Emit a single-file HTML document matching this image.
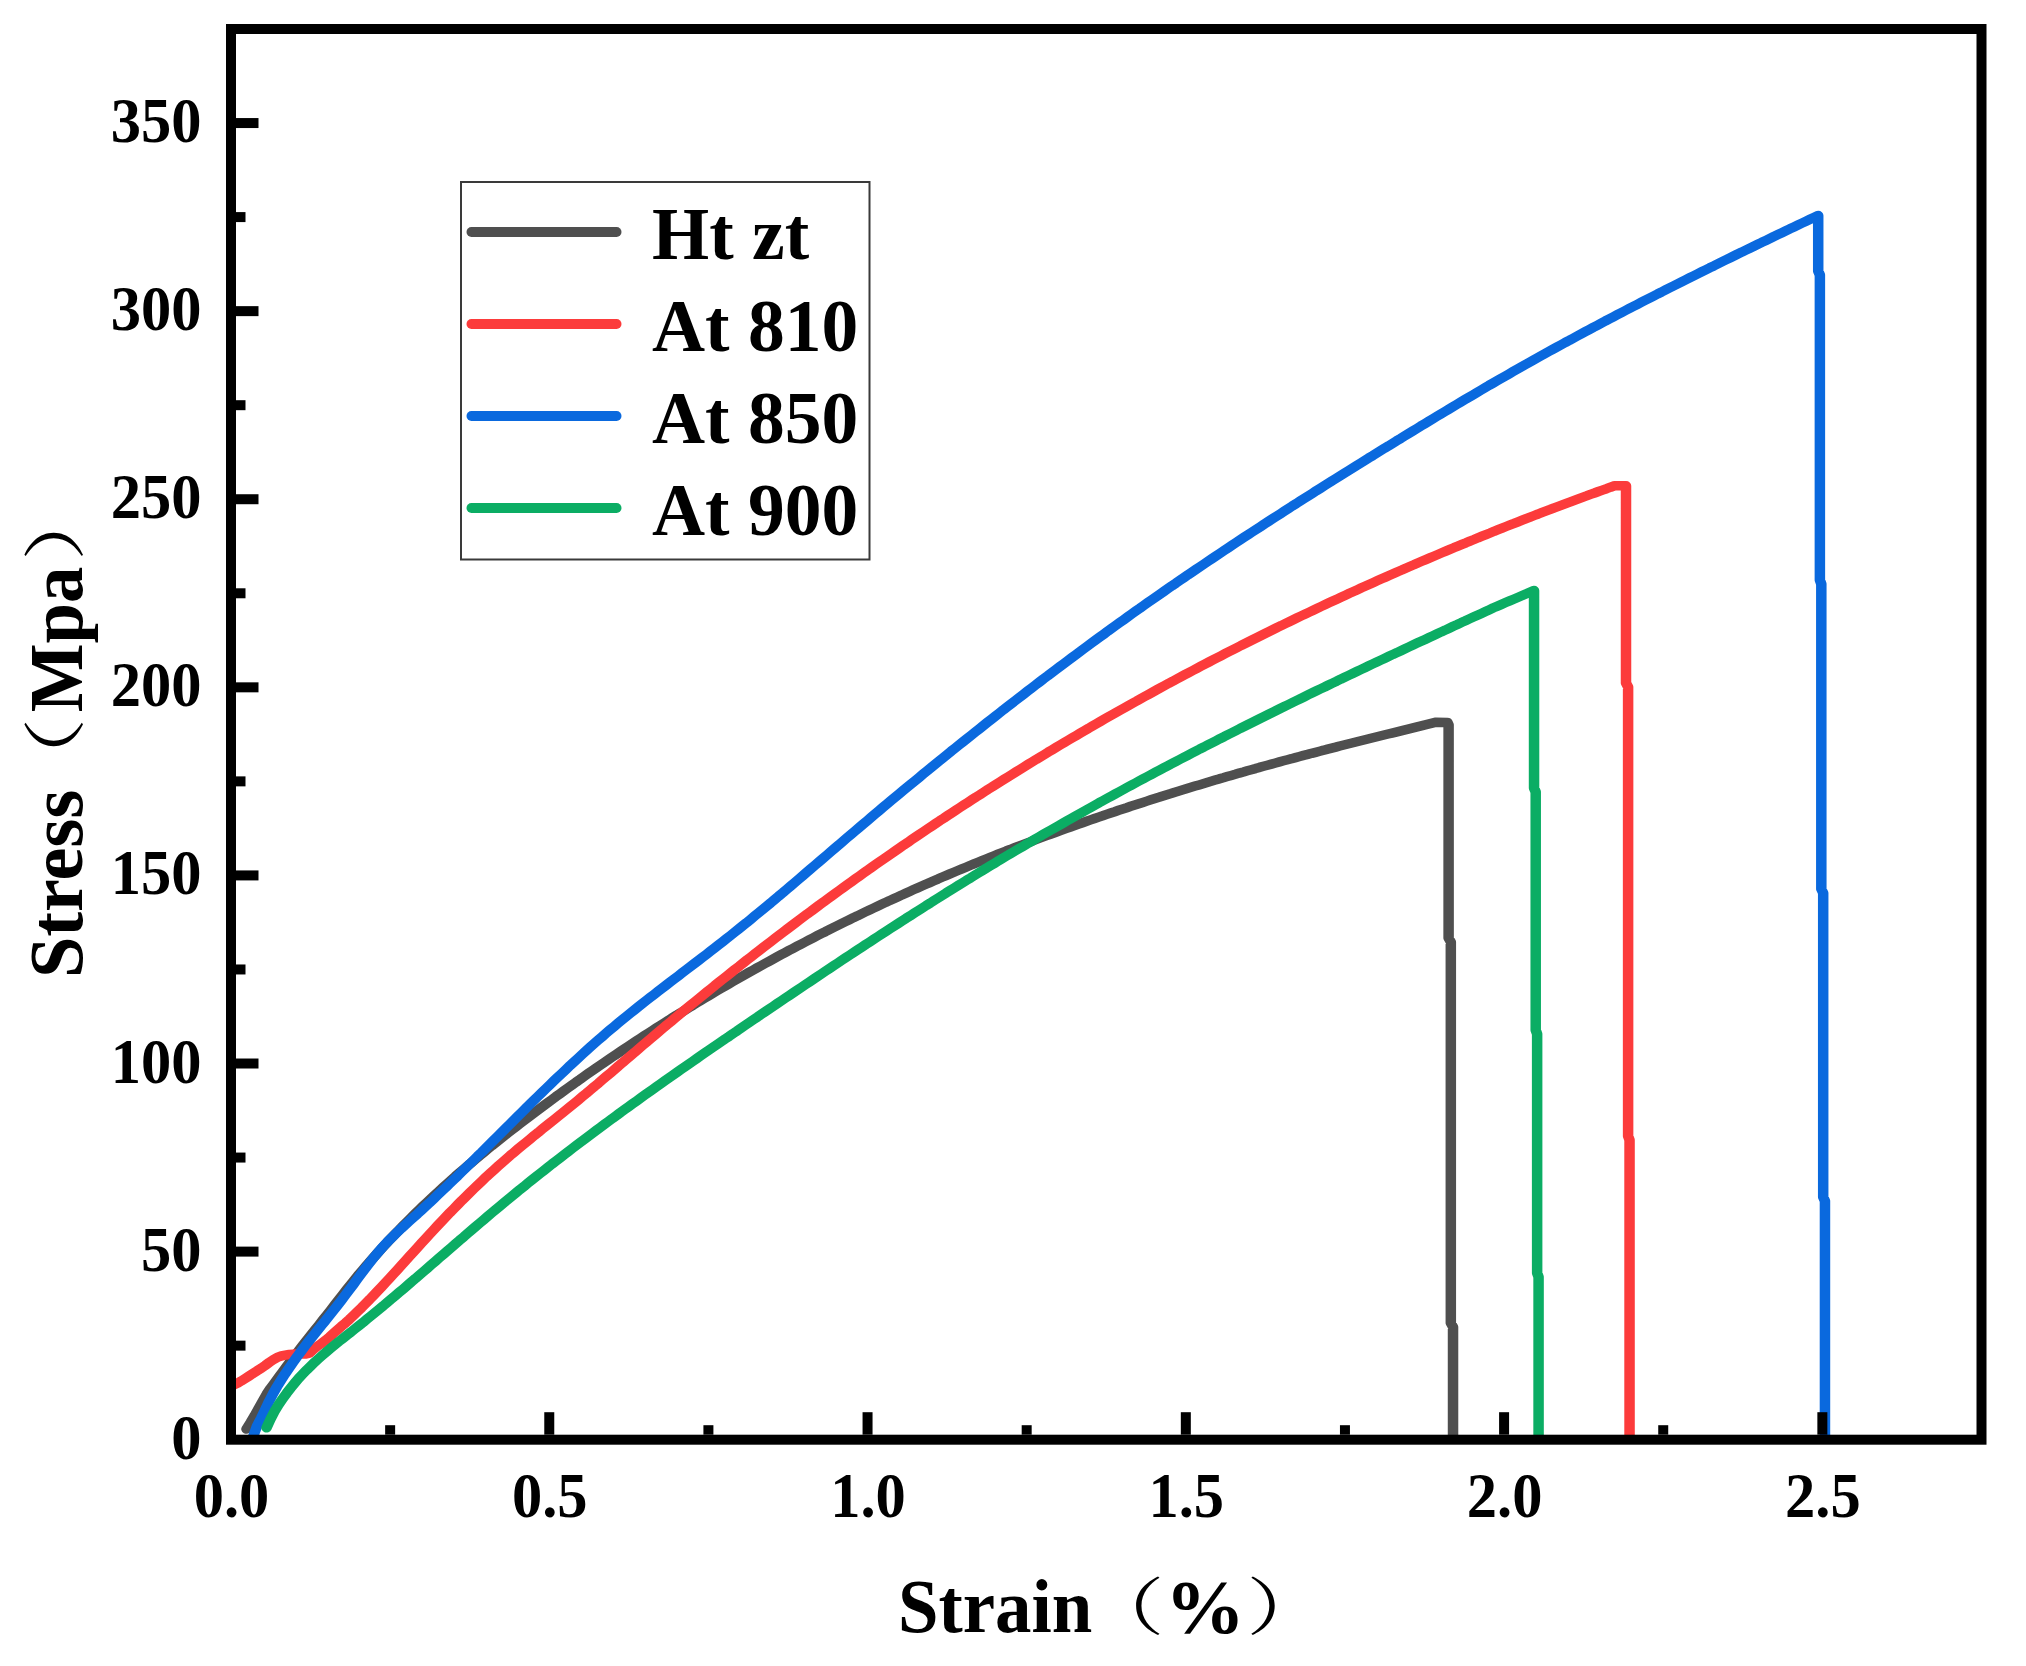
<!DOCTYPE html>
<html lang="en"><head><meta charset="utf-8"><title>Stress-Strain</title>
<style>html,body{margin:0;padding:0;background:#fff}svg{display:block}</style></head>
<body>
<svg width="2026" height="1666" viewBox="0 0 2026 1666">
<rect width="2026" height="1666" fill="#fff"/>
<defs><clipPath id="c"><rect x="231.0" y="29.0" width="1750.5" height="1410.7"/></clipPath></defs>
<g clip-path="url(#c)">
<g transform="scale(1.1053,1)" fill="none" stroke-width="9.5" stroke-linejoin="round" stroke-linecap="round">
<path d="M223.0,1429.0 L226.7,1422.5 L230.3,1415.8 L233.9,1408.7 L237.6,1401.3 L241.2,1394.3 L244.8,1388.3 L248.5,1382.8 L252.1,1377.3 L255.8,1371.8 L259.4,1366.5 L263.0,1361.1 L266.7,1355.9 L270.3,1350.7 L273.9,1345.5 L277.6,1340.4 L281.2,1335.4 L284.8,1330.3 L288.5,1325.2 L292.1,1320.1 L295.8,1315.0 L299.4,1309.9 L303.0,1304.7 L306.7,1299.5 L310.3,1294.4 L313.9,1289.3 L317.6,1284.2 L321.2,1279.3 L324.8,1274.4 L328.5,1269.6 L332.1,1264.9 L335.8,1260.3 L339.4,1255.7 L343.0,1251.2 L346.7,1246.8 L350.3,1242.4 L353.9,1238.2 L357.6,1233.9 L361.2,1229.8 L364.8,1225.7 L368.5,1221.6 L372.1,1217.6 L375.8,1213.6 L379.4,1209.7 L383.0,1205.8 L386.7,1202.0 L390.3,1198.2 L393.9,1194.5 L397.6,1190.8 L401.2,1187.1 L404.8,1183.5 L408.5,1179.9 L412.1,1176.3 L415.8,1172.8 L419.4,1169.3 L423.0,1165.9 L426.7,1162.5 L430.3,1159.1 L433.9,1155.7 L437.6,1152.4 L441.2,1149.1 L444.8,1145.8 L448.5,1142.6 L452.1,1139.4 L455.8,1136.2 L459.4,1133.0 L463.0,1129.9 L466.7,1126.8 L470.3,1123.7 L473.9,1120.6 L477.6,1117.5 L481.2,1114.5 L484.8,1111.5 L488.5,1108.5 L492.1,1105.5 L495.8,1102.5 L499.4,1099.6 L503.0,1096.6 L506.7,1093.7 L510.3,1090.8 L513.9,1087.9 L517.6,1085.0 L521.2,1082.1 L524.9,1079.3 L528.5,1076.4 L532.1,1073.6 L535.8,1070.8 L539.4,1068.0 L543.0,1065.3 L546.7,1062.5 L550.3,1059.7 L553.9,1057.0 L557.6,1054.3 L561.2,1051.6 L564.9,1048.9 L568.5,1046.2 L572.1,1043.6 L575.8,1040.9 L579.4,1038.3 L583.0,1035.7 L586.7,1033.1 L590.3,1030.5 L593.9,1027.9 L597.6,1025.3 L601.2,1022.8 L604.9,1020.3 L608.5,1017.7 L612.1,1015.2 L615.8,1012.8 L619.4,1010.3 L623.0,1007.8 L626.7,1005.4 L630.3,1002.9 L633.9,1000.5 L637.6,998.1 L641.2,995.7 L644.9,993.3 L648.5,990.9 L652.1,988.6 L655.8,986.2 L659.4,983.9 L663.0,981.6 L666.7,979.3 L670.3,977.0 L673.9,974.7 L677.6,972.4 L681.2,970.2 L684.9,967.9 L688.5,965.7 L692.1,963.5 L695.8,961.3 L699.4,959.1 L703.0,956.9 L706.7,954.7 L710.3,952.6 L713.9,950.4 L717.6,948.3 L721.2,946.2 L724.9,944.1 L728.5,942.0 L732.1,939.9 L735.8,937.8 L739.4,935.7 L743.0,933.7 L746.7,931.7 L750.3,929.6 L753.9,927.6 L757.6,925.6 L761.2,923.6 L764.9,921.6 L768.5,919.7 L772.1,917.7 L775.8,915.8 L779.4,913.8 L783.0,911.9 L786.7,910.0 L790.3,908.1 L793.9,906.2 L797.6,904.3 L801.2,902.4 L804.9,900.6 L808.5,898.7 L812.1,896.9 L815.8,895.1 L819.4,893.2 L823.0,891.4 L826.7,889.6 L830.3,887.9 L834.0,886.1 L837.6,884.3 L841.2,882.6 L844.9,880.8 L848.5,879.1 L852.1,877.3 L855.8,875.6 L859.4,873.9 L863.0,872.2 L866.7,870.5 L870.3,868.9 L874.0,867.2 L877.6,865.5 L881.2,863.9 L884.9,862.2 L888.5,860.6 L892.1,859.0 L895.8,857.4 L899.4,855.8 L903.0,854.2 L906.7,852.6 L910.3,851.0 L914.0,849.5 L917.6,847.9 L921.2,846.3 L924.9,844.8 L928.5,843.3 L932.1,841.8 L935.8,840.2 L939.4,838.7 L943.0,837.2 L946.7,835.7 L950.3,834.3 L954.0,832.8 L957.6,831.3 L961.2,829.9 L964.9,828.4 L968.5,827.0 L972.1,825.6 L975.8,824.1 L979.4,822.7 L983.0,821.3 L986.7,819.9 L990.3,818.5 L994.0,817.1 L997.6,815.8 L1001.2,814.4 L1004.9,813.0 L1008.5,811.7 L1012.1,810.3 L1015.8,809.0 L1019.4,807.7 L1023.0,806.3 L1026.7,805.0 L1030.3,803.7 L1034.0,802.4 L1037.6,801.1 L1041.2,799.8 L1044.9,798.5 L1048.5,797.3 L1052.1,796.0 L1055.8,794.7 L1059.4,793.5 L1063.0,792.2 L1066.7,791.0 L1070.3,789.8 L1074.0,788.5 L1077.6,787.3 L1081.2,786.1 L1084.9,784.9 L1088.5,783.7 L1092.1,782.5 L1095.8,781.3 L1099.4,780.1 L1103.0,778.9 L1106.7,777.8 L1110.3,776.6 L1114.0,775.4 L1117.6,774.3 L1121.2,773.1 L1124.9,772.0 L1128.5,770.8 L1132.1,769.7 L1135.8,768.6 L1139.4,767.4 L1143.1,766.3 L1146.7,765.2 L1150.3,764.1 L1154.0,763.0 L1157.6,761.9 L1161.2,760.8 L1164.9,759.7 L1168.5,758.7 L1172.1,757.6 L1175.8,756.5 L1179.4,755.4 L1183.1,754.4 L1186.7,753.3 L1190.3,752.3 L1194.0,751.2 L1197.6,750.2 L1201.2,749.1 L1204.9,748.1 L1208.5,747.1 L1212.1,746.0 L1215.8,745.0 L1219.4,744.0 L1223.1,743.0 L1226.7,742.0 L1230.3,741.0 L1234.0,740.0 L1237.6,739.0 L1241.2,738.0 L1244.9,737.0 L1248.5,736.0 L1252.1,735.0 L1255.8,734.0 L1259.4,733.1 L1263.1,732.1 L1266.7,731.1 L1270.3,730.1 L1274.0,729.1 L1277.6,728.1 L1281.2,727.1 L1284.9,726.1 L1288.5,725.1 L1292.1,724.2 L1295.8,723.2 L1299.4,722.2 L1309.6,722.4 L1310.6,725.0 L1310.6,938.0 L1312.6,942.0 L1312.6,1323.0 L1314.6,1327.0 L1314.6,1445.0" stroke="#4f4f4f"/>
<path d="M203.6,1389.0 L207.2,1387.3 L210.8,1385.4 L214.5,1383.4 L218.1,1381.1 L221.7,1378.6 L225.4,1376.0 L229.0,1373.4 L232.6,1370.8 L236.3,1368.3 L239.9,1365.5 L243.5,1362.5 L247.2,1359.7 L250.8,1357.4 L254.4,1356.0 L258.1,1355.2 L261.7,1354.5 L265.3,1354.1 L269.0,1354.1 L272.6,1354.1 L276.2,1354.1 L279.9,1353.2 L283.5,1349.5 L287.1,1346.3 L290.8,1343.5 L294.4,1340.5 L298.0,1337.1 L301.7,1333.4 L305.3,1329.8 L308.9,1326.3 L312.6,1322.9 L316.2,1319.3 L319.8,1315.5 L323.5,1311.6 L327.1,1307.7 L330.7,1303.6 L334.4,1299.5 L338.0,1295.3 L341.6,1291.1 L345.3,1286.8 L348.9,1282.5 L352.5,1278.2 L356.2,1273.8 L359.8,1269.4 L363.4,1265.0 L367.1,1260.5 L370.7,1256.1 L374.3,1251.7 L378.0,1247.2 L381.6,1242.8 L385.2,1238.4 L388.9,1234.0 L392.5,1229.7 L396.1,1225.4 L399.8,1221.1 L403.4,1216.9 L407.0,1212.7 L410.7,1208.6 L414.3,1204.5 L417.9,1200.4 L421.6,1196.4 L425.2,1192.5 L428.8,1188.6 L432.5,1184.7 L436.1,1180.9 L439.7,1177.1 L443.4,1173.4 L447.0,1169.8 L450.6,1166.2 L454.3,1162.6 L457.9,1159.1 L461.5,1155.6 L465.2,1152.2 L468.8,1148.8 L472.4,1145.5 L476.1,1142.2 L479.7,1138.9 L483.3,1135.6 L487.0,1132.4 L490.6,1129.1 L494.2,1125.9 L497.9,1122.7 L501.5,1119.5 L505.1,1116.3 L508.8,1113.0 L512.4,1109.8 L516.0,1106.5 L519.7,1103.2 L523.3,1099.9 L526.9,1096.6 L530.6,1093.3 L534.2,1089.9 L537.8,1086.5 L541.5,1083.2 L545.1,1079.7 L548.7,1076.3 L552.4,1072.9 L556.0,1069.5 L559.6,1066.0 L563.3,1062.6 L566.9,1059.1 L570.5,1055.7 L574.2,1052.3 L577.8,1048.8 L581.4,1045.4 L585.1,1042.0 L588.7,1038.6 L592.3,1035.2 L596.0,1031.8 L599.6,1028.4 L603.2,1025.0 L606.9,1021.7 L610.5,1018.3 L614.1,1015.0 L617.8,1011.6 L621.4,1008.3 L625.0,1005.0 L628.7,1001.7 L632.3,998.5 L635.9,995.2 L639.6,991.9 L643.2,988.7 L646.8,985.4 L650.5,982.2 L654.1,979.0 L657.8,975.8 L661.4,972.6 L665.0,969.4 L668.7,966.3 L672.3,963.1 L675.9,959.9 L679.6,956.8 L683.2,953.7 L686.8,950.6 L690.5,947.4 L694.1,944.3 L697.7,941.3 L701.4,938.2 L705.0,935.1 L708.6,932.1 L712.3,929.0 L715.9,926.0 L719.5,923.0 L723.2,919.9 L726.8,916.9 L730.4,913.9 L734.1,911.0 L737.7,908.0 L741.3,905.0 L745.0,902.1 L748.6,899.1 L752.2,896.2 L755.9,893.3 L759.5,890.4 L763.1,887.5 L766.8,884.6 L770.4,881.7 L774.0,878.8 L777.7,875.9 L781.3,873.1 L784.9,870.2 L788.6,867.4 L792.2,864.6 L795.8,861.8 L799.5,859.0 L803.1,856.2 L806.7,853.4 L810.4,850.6 L814.0,847.9 L817.6,845.1 L821.3,842.4 L824.9,839.6 L828.5,836.9 L832.2,834.2 L835.8,831.5 L839.4,828.8 L843.1,826.1 L846.7,823.4 L850.3,820.7 L854.0,818.1 L857.6,815.4 L861.2,812.8 L864.9,810.1 L868.5,807.5 L872.1,804.9 L875.8,802.3 L879.4,799.7 L883.0,797.1 L886.7,794.6 L890.3,792.0 L893.9,789.4 L897.6,786.9 L901.2,784.3 L904.8,781.8 L908.5,779.3 L912.1,776.8 L915.7,774.3 L919.4,771.8 L923.0,769.3 L926.6,766.8 L930.3,764.3 L933.9,761.9 L937.5,759.4 L941.2,757.0 L944.8,754.6 L948.4,752.1 L952.1,749.7 L955.7,747.3 L959.3,744.9 L963.0,742.5 L966.6,740.1 L970.2,737.8 L973.9,735.4 L977.5,733.0 L981.1,730.7 L984.8,728.4 L988.4,726.0 L992.0,723.7 L995.7,721.4 L999.3,719.1 L1002.9,716.8 L1006.6,714.5 L1010.2,712.2 L1013.8,710.0 L1017.5,707.7 L1021.1,705.4 L1024.7,703.2 L1028.4,701.0 L1032.0,698.7 L1035.6,696.5 L1039.3,694.3 L1042.9,692.1 L1046.5,689.9 L1050.2,687.7 L1053.8,685.5 L1057.4,683.3 L1061.1,681.2 L1064.7,679.0 L1068.3,676.9 L1072.0,674.7 L1075.6,672.6 L1079.2,670.5 L1082.9,668.3 L1086.5,666.2 L1090.1,664.1 L1093.8,662.0 L1097.4,659.9 L1101.0,657.9 L1104.7,655.8 L1108.3,653.7 L1111.9,651.7 L1115.6,649.6 L1119.2,647.6 L1122.8,645.5 L1126.5,643.5 L1130.1,641.5 L1133.7,639.5 L1137.4,637.5 L1141.0,635.5 L1144.6,633.5 L1148.3,631.5 L1151.9,629.5 L1155.5,627.5 L1159.2,625.6 L1162.8,623.6 L1166.4,621.7 L1170.1,619.7 L1173.7,617.8 L1177.3,615.9 L1181.0,614.0 L1184.6,612.1 L1188.2,610.2 L1191.9,608.3 L1195.5,606.4 L1199.1,604.5 L1202.8,602.6 L1206.4,600.7 L1210.0,598.9 L1213.7,597.0 L1217.3,595.2 L1220.9,593.3 L1224.6,591.5 L1228.2,589.7 L1231.8,587.8 L1235.5,586.0 L1239.1,584.2 L1242.7,582.4 L1246.4,580.6 L1250.0,578.8 L1253.6,577.1 L1257.3,575.3 L1260.9,573.5 L1264.5,571.7 L1268.2,570.0 L1271.8,568.2 L1275.4,566.5 L1279.1,564.8 L1282.7,563.0 L1286.3,561.3 L1290.0,559.6 L1293.6,557.9 L1297.2,556.2 L1300.9,554.5 L1304.5,552.8 L1308.1,551.1 L1311.8,549.4 L1315.4,547.7 L1319.0,546.1 L1322.7,544.4 L1326.3,542.8 L1329.9,541.1 L1333.6,539.5 L1337.2,537.8 L1340.8,536.2 L1344.5,534.6 L1348.1,533.0 L1351.7,531.3 L1355.4,529.7 L1359.0,528.1 L1362.6,526.5 L1366.3,524.9 L1369.9,523.4 L1373.5,521.8 L1377.2,520.2 L1380.8,518.6 L1384.4,517.1 L1388.1,515.5 L1391.7,514.0 L1395.3,512.4 L1399.0,510.9 L1402.6,509.4 L1406.2,507.8 L1409.9,506.3 L1413.5,504.8 L1417.1,503.3 L1420.8,501.8 L1424.4,500.3 L1428.0,498.8 L1431.7,497.3 L1435.3,495.9 L1438.9,494.4 L1442.6,493.0 L1446.2,491.5 L1449.8,490.1 L1453.5,488.7 L1457.1,487.2 L1460.7,485.8 L1471.1,485.8 L1471.1,683.0 L1473.0,687.0 L1473.0,1136.0 L1474.3,1140.0 L1474.3,1445.0" stroke="#fc3b3b"/>
<path d="M228.9,1437.0 L232.5,1426.0 L236.2,1418.2 L239.8,1410.0 L243.4,1401.4 L247.1,1393.5 L250.7,1386.5 L254.3,1380.1 L257.9,1373.9 L261.6,1367.9 L265.2,1362.2 L268.8,1356.6 L272.5,1351.2 L276.1,1345.9 L279.7,1340.8 L283.4,1335.7 L287.0,1330.7 L290.6,1325.7 L294.3,1320.8 L297.9,1315.8 L301.5,1310.8 L305.1,1305.7 L308.8,1300.5 L312.4,1295.2 L316.0,1289.9 L319.7,1284.5 L323.3,1279.0 L326.9,1273.6 L330.6,1268.3 L334.2,1263.1 L337.8,1258.0 L341.5,1253.1 L345.1,1248.5 L348.7,1244.1 L352.3,1239.9 L356.0,1235.9 L359.6,1232.1 L363.2,1228.3 L366.9,1224.6 L370.5,1221.0 L374.1,1217.4 L377.8,1213.8 L381.4,1210.1 L385.0,1206.4 L388.7,1202.7 L392.3,1198.9 L395.9,1195.1 L399.5,1191.3 L403.2,1187.5 L406.8,1183.6 L410.4,1179.8 L414.1,1175.9 L417.7,1171.9 L421.3,1168.0 L425.0,1164.1 L428.6,1160.1 L432.2,1156.1 L435.9,1152.2 L439.5,1148.2 L443.1,1144.2 L446.7,1140.2 L450.4,1136.2 L454.0,1132.2 L457.6,1128.2 L461.3,1124.2 L464.9,1120.2 L468.5,1116.2 L472.2,1112.2 L475.8,1108.2 L479.4,1104.3 L483.1,1100.3 L486.7,1096.4 L490.3,1092.5 L493.9,1088.6 L497.6,1084.7 L501.2,1080.8 L504.8,1077.0 L508.5,1073.2 L512.1,1069.4 L515.7,1065.6 L519.4,1061.9 L523.0,1058.2 L526.6,1054.5 L530.2,1050.9 L533.9,1047.2 L537.5,1043.7 L541.1,1040.2 L544.8,1036.7 L548.4,1033.2 L552.0,1029.8 L555.7,1026.4 L559.3,1023.1 L562.9,1019.8 L566.6,1016.5 L570.2,1013.3 L573.8,1010.1 L577.4,1006.9 L581.1,1003.7 L584.7,1000.5 L588.3,997.4 L592.0,994.3 L595.6,991.2 L599.2,988.1 L602.9,985.0 L606.5,981.9 L610.1,978.9 L613.8,975.8 L617.4,972.7 L621.0,969.7 L624.6,966.6 L628.3,963.5 L631.9,960.5 L635.5,957.4 L639.2,954.3 L642.8,951.2 L646.4,948.1 L650.1,944.9 L653.7,941.8 L657.3,938.7 L661.0,935.5 L664.6,932.3 L668.2,929.1 L671.8,925.9 L675.5,922.7 L679.1,919.4 L682.7,916.1 L686.4,912.8 L690.0,909.5 L693.6,906.2 L697.3,902.9 L700.9,899.5 L704.5,896.1 L708.2,892.8 L711.8,889.4 L715.4,886.0 L719.0,882.6 L722.7,879.1 L726.3,875.7 L729.9,872.3 L733.6,868.8 L737.2,865.4 L740.8,862.0 L744.5,858.5 L748.1,855.1 L751.7,851.6 L755.3,848.2 L759.0,844.8 L762.6,841.3 L766.2,837.9 L769.9,834.5 L773.5,831.1 L777.1,827.7 L780.8,824.2 L784.4,820.9 L788.0,817.5 L791.7,814.1 L795.3,810.7 L798.9,807.3 L802.5,804.0 L806.2,800.6 L809.8,797.3 L813.4,794.0 L817.1,790.6 L820.7,787.3 L824.3,784.0 L828.0,780.7 L831.6,777.4 L835.2,774.1 L838.9,770.8 L842.5,767.5 L846.1,764.2 L849.7,761.0 L853.4,757.7 L857.0,754.5 L860.6,751.2 L864.3,748.0 L867.9,744.8 L871.5,741.6 L875.2,738.4 L878.8,735.2 L882.4,732.0 L886.1,728.8 L889.7,725.6 L893.3,722.4 L896.9,719.3 L900.6,716.1 L904.2,713.0 L907.8,709.8 L911.5,706.7 L915.1,703.6 L918.7,700.5 L922.4,697.4 L926.0,694.3 L929.6,691.2 L933.3,688.1 L936.9,685.0 L940.5,682.0 L944.1,678.9 L947.8,675.9 L951.4,672.8 L955.0,669.8 L958.7,666.8 L962.3,663.8 L965.9,660.8 L969.6,657.8 L973.2,654.8 L976.8,651.8 L980.4,648.9 L984.1,645.9 L987.7,642.9 L991.3,640.0 L995.0,637.1 L998.6,634.2 L1002.2,631.2 L1005.9,628.3 L1009.5,625.4 L1013.1,622.6 L1016.8,619.7 L1020.4,616.8 L1024.0,613.9 L1027.6,611.1 L1031.3,608.3 L1034.9,605.4 L1038.5,602.6 L1042.2,599.8 L1045.8,597.0 L1049.4,594.2 L1053.1,591.4 L1056.7,588.6 L1060.3,585.8 L1064.0,583.1 L1067.6,580.3 L1071.2,577.6 L1074.8,574.8 L1078.5,572.1 L1082.1,569.4 L1085.7,566.7 L1089.4,564.0 L1093.0,561.3 L1096.6,558.6 L1100.3,555.9 L1103.9,553.2 L1107.5,550.5 L1111.2,547.8 L1114.8,545.2 L1118.4,542.5 L1122.0,539.9 L1125.7,537.2 L1129.3,534.6 L1132.9,532.0 L1136.6,529.4 L1140.2,526.8 L1143.8,524.1 L1147.5,521.5 L1151.1,518.9 L1154.7,516.4 L1158.4,513.8 L1162.0,511.2 L1165.6,508.6 L1169.2,506.0 L1172.9,503.5 L1176.5,500.9 L1180.1,498.4 L1183.8,495.8 L1187.4,493.3 L1191.0,490.7 L1194.7,488.2 L1198.3,485.7 L1201.9,483.2 L1205.5,480.6 L1209.2,478.1 L1212.8,475.6 L1216.4,473.1 L1220.1,470.6 L1223.7,468.1 L1227.3,465.6 L1231.0,463.1 L1234.6,460.6 L1238.2,458.1 L1241.9,455.7 L1245.5,453.2 L1249.1,450.7 L1252.7,448.2 L1256.4,445.8 L1260.0,443.3 L1263.6,440.8 L1267.3,438.4 L1270.9,435.9 L1274.5,433.5 L1278.2,431.0 L1281.8,428.6 L1285.4,426.1 L1289.1,423.7 L1292.7,421.3 L1296.3,418.8 L1299.9,416.4 L1303.6,414.0 L1307.2,411.6 L1310.8,409.2 L1314.5,406.8 L1318.1,404.4 L1321.7,402.0 L1325.4,399.6 L1329.0,397.2 L1332.6,394.9 L1336.3,392.5 L1339.9,390.1 L1343.5,387.8 L1347.1,385.4 L1350.8,383.1 L1354.4,380.8 L1358.0,378.5 L1361.7,376.2 L1365.3,373.9 L1368.9,371.6 L1372.6,369.3 L1376.2,367.0 L1379.8,364.8 L1383.5,362.5 L1387.1,360.2 L1390.7,358.0 L1394.3,355.8 L1398.0,353.5 L1401.6,351.3 L1405.2,349.1 L1408.9,346.9 L1412.5,344.7 L1416.1,342.5 L1419.8,340.4 L1423.4,338.2 L1427.0,336.0 L1430.6,333.9 L1434.3,331.7 L1437.9,329.6 L1441.5,327.4 L1445.2,325.3 L1448.8,323.2 L1452.4,321.0 L1456.1,318.9 L1459.7,316.8 L1463.3,314.7 L1467.0,312.6 L1470.6,310.5 L1474.2,308.4 L1477.8,306.4 L1481.5,304.3 L1485.1,302.2 L1488.7,300.2 L1492.4,298.1 L1496.0,296.1 L1499.6,294.0 L1503.3,292.0 L1506.9,289.9 L1510.5,287.9 L1514.2,285.9 L1517.8,283.9 L1521.4,281.8 L1525.0,279.8 L1528.7,277.8 L1532.3,275.8 L1535.9,273.8 L1539.6,271.8 L1543.2,269.8 L1546.8,267.8 L1550.5,265.9 L1554.1,263.9 L1557.7,261.9 L1561.4,259.9 L1565.0,258.0 L1568.6,256.0 L1572.2,254.0 L1575.9,252.1 L1579.5,250.1 L1583.1,248.2 L1586.8,246.2 L1590.4,244.3 L1594.0,242.3 L1597.7,240.4 L1601.3,238.5 L1604.9,236.5 L1608.6,234.6 L1612.2,232.7 L1615.8,230.8 L1619.4,228.8 L1623.1,226.9 L1626.7,225.0 L1630.3,223.1 L1634.0,221.2 L1637.6,219.3 L1641.2,217.4 L1644.9,215.5 L1645.0,215.5 L1645.0,271.0 L1646.5,275.0 L1646.5,580.0 L1647.8,584.0 L1647.8,889.0 L1649.5,893.0 L1649.5,1197.0 L1651.1,1201.0 L1651.1,1445.0" stroke="#0a69de"/>
<path d="M241.1,1427.8 L244.8,1419.0 L248.4,1411.3 L252.0,1404.7 L255.7,1398.8 L259.3,1393.3 L263.0,1388.0 L266.6,1383.1 L270.2,1378.4 L273.9,1374.0 L277.5,1369.9 L281.2,1365.9 L284.8,1362.1 L288.4,1358.5 L292.1,1354.9 L295.7,1351.5 L299.4,1348.1 L303.0,1344.8 L306.6,1341.5 L310.3,1338.3 L313.9,1335.1 L317.6,1332.0 L321.2,1328.8 L324.8,1325.6 L328.5,1322.4 L332.1,1319.1 L335.8,1315.8 L339.4,1312.5 L343.0,1309.2 L346.7,1305.9 L350.3,1302.5 L354.0,1299.1 L357.6,1295.7 L361.2,1292.3 L364.9,1288.9 L368.5,1285.5 L372.1,1282.0 L375.8,1278.6 L379.4,1275.1 L383.1,1271.6 L386.7,1268.2 L390.3,1264.7 L394.0,1261.2 L397.6,1257.7 L401.3,1254.2 L404.9,1250.8 L408.5,1247.3 L412.2,1243.8 L415.8,1240.3 L419.5,1236.9 L423.1,1233.4 L426.7,1230.0 L430.4,1226.5 L434.0,1223.1 L437.7,1219.7 L441.3,1216.3 L444.9,1212.9 L448.6,1209.5 L452.2,1206.2 L455.9,1202.8 L459.5,1199.5 L463.1,1196.2 L466.8,1192.9 L470.4,1189.6 L474.1,1186.4 L477.7,1183.1 L481.3,1179.9 L485.0,1176.7 L488.6,1173.5 L492.3,1170.3 L495.9,1167.2 L499.5,1164.0 L503.2,1160.9 L506.8,1157.8 L510.5,1154.7 L514.1,1151.6 L517.7,1148.5 L521.4,1145.4 L525.0,1142.4 L528.7,1139.3 L532.3,1136.3 L535.9,1133.3 L539.6,1130.3 L543.2,1127.3 L546.9,1124.3 L550.5,1121.4 L554.1,1118.4 L557.8,1115.5 L561.4,1112.5 L565.1,1109.6 L568.7,1106.7 L572.3,1103.8 L576.0,1100.9 L579.6,1098.0 L583.3,1095.1 L586.9,1092.2 L590.5,1089.4 L594.2,1086.5 L597.8,1083.7 L601.5,1080.8 L605.1,1078.0 L608.7,1075.2 L612.4,1072.4 L616.0,1069.6 L619.7,1066.7 L623.3,1063.9 L626.9,1061.2 L630.6,1058.4 L634.2,1055.6 L637.8,1052.8 L641.5,1050.0 L645.1,1047.3 L648.8,1044.5 L652.4,1041.8 L656.0,1039.0 L659.7,1036.3 L663.3,1033.5 L667.0,1030.8 L670.6,1028.0 L674.2,1025.3 L677.9,1022.5 L681.5,1019.8 L685.2,1017.1 L688.8,1014.3 L692.4,1011.6 L696.1,1008.9 L699.7,1006.2 L703.4,1003.4 L707.0,1000.7 L710.6,998.0 L714.3,995.3 L717.9,992.6 L721.6,989.9 L725.2,987.2 L728.8,984.5 L732.5,981.8 L736.1,979.1 L739.8,976.4 L743.4,973.7 L747.0,971.0 L750.7,968.3 L754.3,965.7 L758.0,963.0 L761.6,960.3 L765.2,957.7 L768.9,955.0 L772.5,952.4 L776.2,949.7 L779.8,947.1 L783.4,944.4 L787.1,941.8 L790.7,939.2 L794.4,936.5 L798.0,933.9 L801.6,931.3 L805.3,928.7 L808.9,926.1 L812.6,923.5 L816.2,920.9 L819.8,918.3 L823.5,915.8 L827.1,913.2 L830.8,910.6 L834.4,908.1 L838.0,905.5 L841.7,903.0 L845.3,900.4 L849.0,897.9 L852.6,895.4 L856.2,892.8 L859.9,890.3 L863.5,887.8 L867.2,885.3 L870.8,882.8 L874.4,880.3 L878.1,877.9 L881.7,875.4 L885.4,872.9 L889.0,870.5 L892.6,868.0 L896.3,865.6 L899.9,863.2 L903.5,860.7 L907.2,858.3 L910.8,855.9 L914.5,853.5 L918.1,851.1 L921.7,848.8 L925.4,846.4 L929.0,844.0 L932.7,841.7 L936.3,839.3 L939.9,837.0 L943.6,834.6 L947.2,832.3 L950.9,830.0 L954.5,827.7 L958.1,825.4 L961.8,823.1 L965.4,820.8 L969.1,818.5 L972.7,816.2 L976.3,814.0 L980.0,811.7 L983.6,809.5 L987.3,807.2 L990.9,805.0 L994.5,802.7 L998.2,800.5 L1001.8,798.3 L1005.5,796.1 L1009.1,793.9 L1012.7,791.7 L1016.4,789.5 L1020.0,787.3 L1023.7,785.1 L1027.3,783.0 L1030.9,780.8 L1034.6,778.6 L1038.2,776.5 L1041.9,774.3 L1045.5,772.2 L1049.1,770.1 L1052.8,767.9 L1056.4,765.8 L1060.1,763.7 L1063.7,761.6 L1067.3,759.5 L1071.0,757.4 L1074.6,755.3 L1078.3,753.2 L1081.9,751.1 L1085.5,749.0 L1089.2,747.0 L1092.8,744.9 L1096.5,742.8 L1100.1,740.8 L1103.7,738.7 L1107.4,736.7 L1111.0,734.6 L1114.7,732.6 L1118.3,730.6 L1121.9,728.5 L1125.6,726.5 L1129.2,724.5 L1132.9,722.5 L1136.5,720.5 L1140.1,718.5 L1143.8,716.5 L1147.4,714.5 L1151.1,712.5 L1154.7,710.5 L1158.3,708.5 L1162.0,706.5 L1165.6,704.6 L1169.2,702.6 L1172.9,700.6 L1176.5,698.7 L1180.2,696.7 L1183.8,694.7 L1187.4,692.8 L1191.1,690.8 L1194.7,688.9 L1198.4,687.0 L1202.0,685.0 L1205.6,683.1 L1209.3,681.2 L1212.9,679.2 L1216.6,677.3 L1220.2,675.4 L1223.8,673.5 L1227.5,671.5 L1231.1,669.6 L1234.8,667.7 L1238.4,665.8 L1242.0,663.9 L1245.7,662.0 L1249.3,660.1 L1253.0,658.2 L1256.6,656.3 L1260.2,654.4 L1263.9,652.6 L1267.5,650.7 L1271.2,648.8 L1274.8,646.9 L1278.4,645.0 L1282.1,643.1 L1285.7,641.3 L1289.4,639.4 L1293.0,637.5 L1296.6,635.7 L1300.3,633.8 L1303.9,631.9 L1307.6,630.1 L1311.2,628.2 L1314.8,626.3 L1318.5,624.5 L1322.1,622.6 L1325.8,620.8 L1329.4,618.9 L1333.0,617.1 L1336.7,615.2 L1340.3,613.4 L1344.0,611.5 L1347.6,609.7 L1351.2,607.8 L1354.9,606.1 L1358.5,604.4 L1362.2,602.6 L1365.8,600.9 L1369.4,599.2 L1373.1,597.5 L1376.7,595.8 L1380.4,594.0 L1384.0,592.3 L1387.6,590.6 L1387.9,590.6 L1387.9,788.0 L1389.4,792.0 L1389.4,1030.0 L1390.7,1034.0 L1390.7,1273.0 L1392.0,1277.0 L1392.0,1445.0" stroke="#0bad64"/>
</g></g>
<g stroke="#000" stroke-width="10" fill="none">
<line x1="390.14" y1="1434.70" x2="390.14" y2="1425.20"/>
<line x1="549.27" y1="1434.70" x2="549.27" y2="1412.20"/>
<line x1="708.41" y1="1434.70" x2="708.41" y2="1425.20"/>
<line x1="867.55" y1="1434.70" x2="867.55" y2="1412.20"/>
<line x1="1026.68" y1="1434.70" x2="1026.68" y2="1425.20"/>
<line x1="1185.82" y1="1434.70" x2="1185.82" y2="1412.20"/>
<line x1="1344.95" y1="1434.70" x2="1344.95" y2="1425.20"/>
<line x1="1504.09" y1="1434.70" x2="1504.09" y2="1412.20"/>
<line x1="1663.23" y1="1434.70" x2="1663.23" y2="1425.20"/>
<line x1="1822.36" y1="1434.70" x2="1822.36" y2="1412.20"/>
<line x1="236.00" y1="1345.65" x2="245.50" y2="1345.65"/>
<line x1="236.00" y1="1251.61" x2="258.50" y2="1251.61"/>
<line x1="236.00" y1="1157.56" x2="245.50" y2="1157.56"/>
<line x1="236.00" y1="1063.51" x2="258.50" y2="1063.51"/>
<line x1="236.00" y1="969.47" x2="245.50" y2="969.47"/>
<line x1="236.00" y1="875.42" x2="258.50" y2="875.42"/>
<line x1="236.00" y1="781.37" x2="245.50" y2="781.37"/>
<line x1="236.00" y1="687.33" x2="258.50" y2="687.33"/>
<line x1="236.00" y1="593.28" x2="245.50" y2="593.28"/>
<line x1="236.00" y1="499.23" x2="258.50" y2="499.23"/>
<line x1="236.00" y1="405.19" x2="245.50" y2="405.19"/>
<line x1="236.00" y1="311.14" x2="258.50" y2="311.14"/>
<line x1="236.00" y1="217.09" x2="245.50" y2="217.09"/>
<line x1="236.00" y1="123.05" x2="258.50" y2="123.05"/>
<rect x="231.0" y="29.0" width="1750.5" height="1410.7"/>
</g>
<g font-family="'Liberation Serif', 'Noto Serif CJK SC', serif" font-weight="bold" fill="#000">
<g font-size="60.5" text-anchor="middle">
<text transform="translate(231.5,1516.5) scale(1,1.04)">0.0</text>
<text transform="translate(549.8,1516.5) scale(1,1.04)">0.5</text>
<text transform="translate(868.0,1516.5) scale(1,1.04)">1.0</text>
<text transform="translate(1186.3,1516.5) scale(1,1.04)">1.5</text>
<text transform="translate(1504.6,1516.5) scale(1,1.04)">2.0</text>
<text transform="translate(1822.9,1516.5) scale(1,1.04)">2.5</text>
</g>
<g font-size="60.5" text-anchor="end">
<text transform="translate(201.5,1458.7) scale(1,1.04)">0</text>
<text transform="translate(201.5,1270.6) scale(1,1.04)">50</text>
<text transform="translate(201.5,1082.5) scale(1,1.04)">100</text>
<text transform="translate(201.5,894.4) scale(1,1.04)">150</text>
<text transform="translate(201.5,706.3) scale(1,1.04)">200</text>
<text transform="translate(201.5,518.2) scale(1,1.04)">250</text>
<text transform="translate(201.5,330.1) scale(1,1.04)">300</text>
<text transform="translate(201.5,142.0) scale(1,1.04)">350</text>
</g>
<g font-size="72.8">
<text transform="translate(898,1632) scale(1,1.04)">Strain</text>
<text transform="translate(1205,1632.5) scale(1.1,1.04)" text-anchor="middle">%</text>
<text font-weight="normal" transform="translate(1123.7,1628.9) scale(1.12,0.86)" text-anchor="middle">（</text>
<text font-weight="normal" transform="translate(1287.1,1628.9) scale(1.12,0.86)" text-anchor="middle">）</text>
<text transform="translate(81.5,978) rotate(-90) scale(1.02,1.04)">Stress</text>
<text transform="translate(81.5,712.3) rotate(-90) scale(1,1.04)">Mpa</text>
<text font-weight="normal" transform="translate(76.5,758.6) rotate(-90) scale(1.12,0.86)" text-anchor="middle">（</text>
<text font-weight="normal" transform="translate(76.5,520.5) rotate(-90) scale(1.12,0.86)" text-anchor="middle">）</text>
</g>
<rect x="461" y="182" width="408.5" height="377.5" fill="#fff" stroke="#3a3a3a" stroke-width="2"/>
<line x1="471.5" y1="232" x2="616.5" y2="232" stroke="#4f4f4f" stroke-width="10" stroke-linecap="round"/>
<text x="652" y="258.5" font-size="73.5">Ht zt</text>
<line x1="471.5" y1="324" x2="616.5" y2="324" stroke="#fc3b3b" stroke-width="10" stroke-linecap="round"/>
<text x="652" y="350.5" font-size="73.5">At 810</text>
<line x1="471.5" y1="416" x2="616.5" y2="416" stroke="#0a69de" stroke-width="10" stroke-linecap="round"/>
<text x="652" y="442.5" font-size="73.5">At 850</text>
<line x1="471.5" y1="508" x2="616.5" y2="508" stroke="#0bad64" stroke-width="10" stroke-linecap="round"/>
<text x="652" y="534.5" font-size="73.5">At 900</text>
</g>
</svg>
</body></html>
